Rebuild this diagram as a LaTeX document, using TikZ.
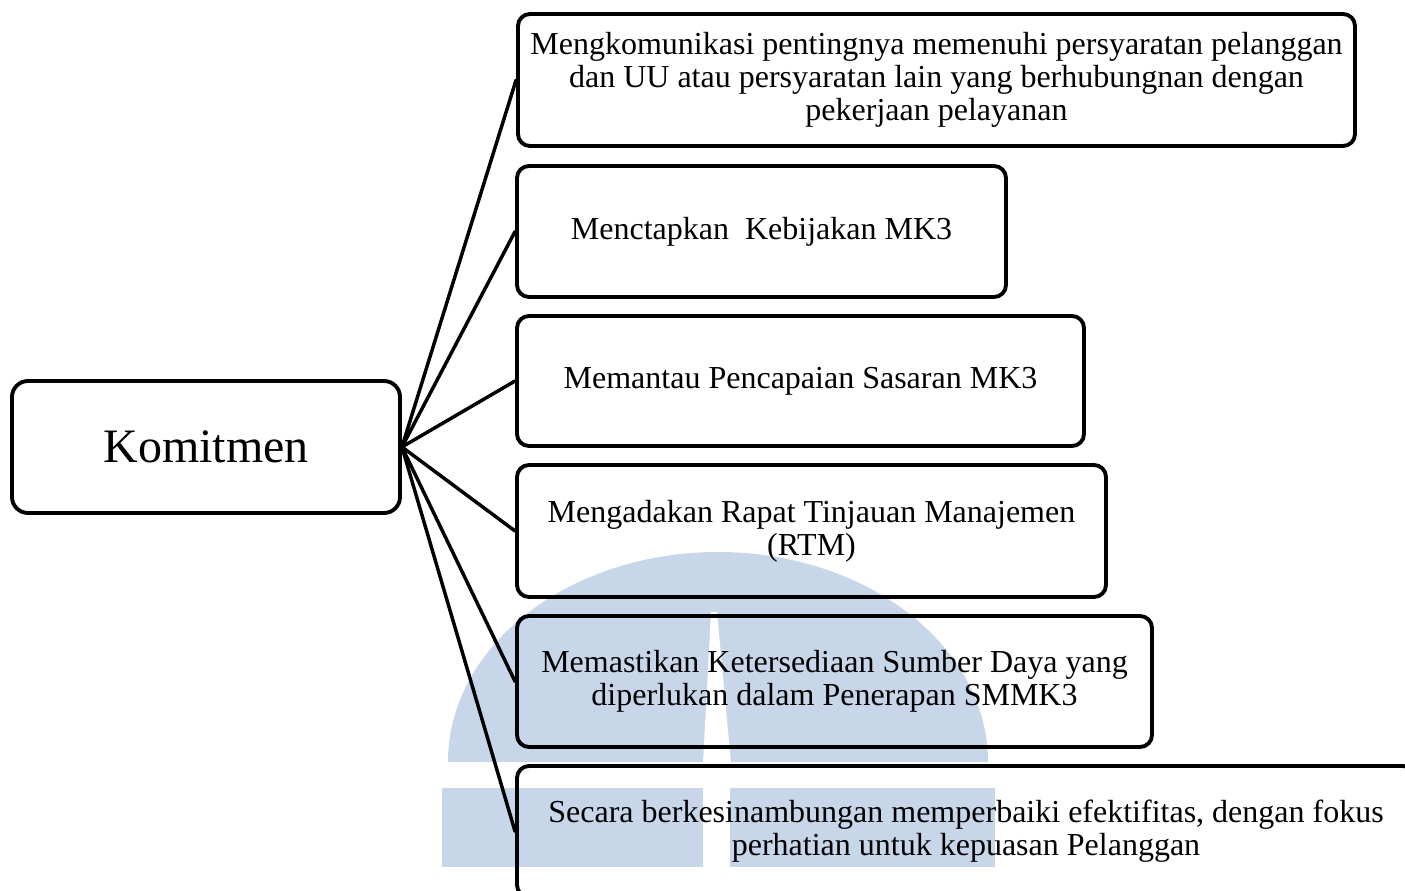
\documentclass[tikz,border=0pt]{standalone}
\usepackage{fontspec}
\setmainfont{Liberation Serif}
\definecolor{markblue}{RGB}{200,214,234}
\tikzset{
  box/.style={draw=black, line width=2.9pt, rounded corners=9pt, inner sep=0pt,
              align=center, font=\fontsize{24}{25}\selectfont},
  link/.style={draw=black, line width=2.6pt, line cap=round}
}
\begin{document}
\begin{tikzpicture}[x=0.75pt, y=-0.75pt]
  \useasboundingbox (0,0) rectangle (1405,891);
  \clip (0,0) rectangle (1405,891);

  % faint logo mark behind the boxes
  \fill[markblue] (448,762) arc[start angle=180, end angle=360, x radius=270, y radius=210] -- cycle;
  \fill[markblue] (442,788) rectangle (703,867);
  \fill[markblue] (730,788) rectangle (995,867);
  \fill[white] (711,612) -- (717,612) -- (731,763) -- (703,763) -- cycle;

  % central node
  \node[box, rounded corners=12pt, minimum width=291pt, minimum height=99pt,
        font=\fontsize{36}{38}\selectfont] (k) at (206,447) {Komitmen};

  % commitment items
  \node[box, minimum width=627.75pt, minimum height=99pt] (b1) at (936.5,80)
    {Mengkomunikasi pentingnya memenuhi persyaratan pelanggan\\
     dan UU atau persyaratan lain yang berhubungnan dengan\\
     pekerjaan pelayanan};
  \node[box, minimum width=366.75pt, minimum height=98.25pt] (b2) at (761.5,231.5)
    {Menctapkan\ \ Kebijakan MK3};
  \node[box, minimum width=425.25pt, minimum height=97.5pt] (b3) at (800.5,381)
    {Memantau Pencapaian Sasaran MK3};
  \node[box, minimum width=441.75pt, minimum height=99pt] (b4) at (811.5,531)
    {Mengadakan Rapat Tinjauan Manajemen\\(RTM)};
  \node[box, minimum width=476.25pt, minimum height=98.25pt] (b5) at (834.5,681.5)
    {Memastikan Ketersediaan Sumber Daya yang\\diperlukan dalam Penerapan SMMK3};
  \node[box, minimum width=673.5pt, minimum height=98.25pt] (b6) at (966,831.5)
    {Secara berkesinambungan memperbaiki efektifitas, dengan fokus\\
     perhatian untuk kepuasan Pelanggan};

  % connectors fanning out from the central node
  \foreach \t in {b1,b2,b3,b4,b5,b6}
    \draw[link] (k.east) -- (\t.west);
\end{tikzpicture}
\end{document}
